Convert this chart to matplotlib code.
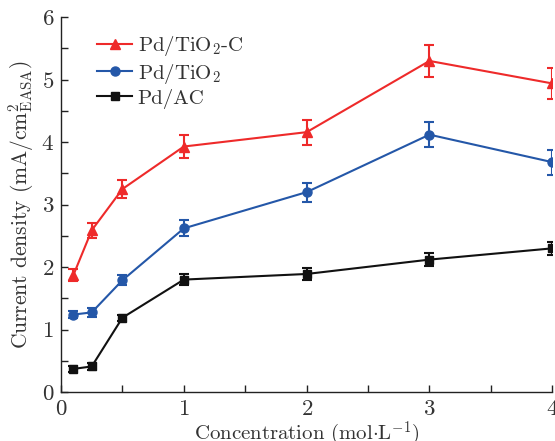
import matplotlib
matplotlib.use("Agg")
import matplotlib.pyplot as plt
from matplotlib.ticker import MultipleLocator
from matplotlib.lines import Line2D

plt.rcParams['font.family'] = 'serif'
plt.rcParams['font.serif'] = ['cmr10', 'DejaVu Serif']
plt.rcParams['mathtext.fontset'] = 'cm'
plt.rcParams['axes.formatter.use_mathtext'] = True

x = [0.1, 0.25, 0.5, 1, 2, 3, 4]
pd_tio2_c = [1.87, 2.59, 3.25, 3.93, 4.16, 5.30, 4.94]
pd_tio2_c_err = [0.10, 0.12, 0.15, 0.19, 0.20, 0.26, 0.25]
pd_tio2 = [1.24, 1.275, 1.79, 2.62, 3.20, 4.12, 3.68]
pd_tio2_err = [0.05, 0.07, 0.08, 0.13, 0.15, 0.20, 0.20]
pd_ac = [0.37, 0.41, 1.19, 1.80, 1.89, 2.12, 2.30]
pd_ac_err = [0.05, 0.05, 0.05, 0.09, 0.09, 0.11, 0.10]

labels = [r'Pd/TiO$_2$-C', r'Pd/TiO$_2$', r'Pd/AC']
colors = ['#ee2a2a', '#2457a8', '#111111']
markers = ['^', 'o', 's']
msizes = [7.5, 6.5, 6]

fig = plt.figure(figsize=(5.55, 4.41), dpi=100)
ax = fig.add_axes([0.110, 0.111, 0.885, 0.850])

series = [(pd_tio2_c, pd_tio2_c_err), (pd_tio2, pd_tio2_err), (pd_ac, pd_ac_err)]
handles = []
for (y, e), c, m, s, lab in zip(series, colors, markers, msizes, labels):
    ax.errorbar(x, y, yerr=e, color=c, marker=m, ms=s, lw=1.5, capsize=3.5,
                capthick=1.5, elinewidth=1.5)
    handles.append(Line2D([], [], color=c, marker=m, ms=s, lw=1.5, label=lab))

ax.set_xlim(0, 4)
ax.set_ylim(0, 6)
ax.xaxis.set_major_locator(MultipleLocator(1))
ax.xaxis.set_minor_locator(MultipleLocator(0.5))
ax.yaxis.set_major_locator(MultipleLocator(1))
ax.yaxis.set_minor_locator(MultipleLocator(0.5))
for sp in ['top', 'right']:
    ax.spines[sp].set_visible(False)
for sp in ['left', 'bottom']:
    ax.spines[sp].set_linewidth(1.0)
    ax.spines[sp].set_color('#222222')
ax.tick_params(which='major', direction='in', length=5, width=1, colors='#222222',
               labelsize=16.5, labelcolor='#333333', pad=5)
ax.tick_params(which='minor', direction='in', length=5, width=1, colors='#222222')

ax.set_xlabel(r'Concentration (mol$\cdot$L$^{-1}$)', fontsize=15, color='#333333')
ax.xaxis.set_label_coords(0.5, -0.075)
ax.set_ylabel(r'Current density (mA/cm$^2_{\rm EASA}$)', fontsize=15.5, color='#333333',
              labelpad=4)

leg = ax.legend(handles=handles, loc='upper left', bbox_to_anchor=(0.035, 1.004),
                frameon=False, fontsize=15, handlelength=1.7, handletextpad=0.25,
                labelspacing=0.15, labelcolor='#333333')

fig.savefig('out.png', dpi=100)
